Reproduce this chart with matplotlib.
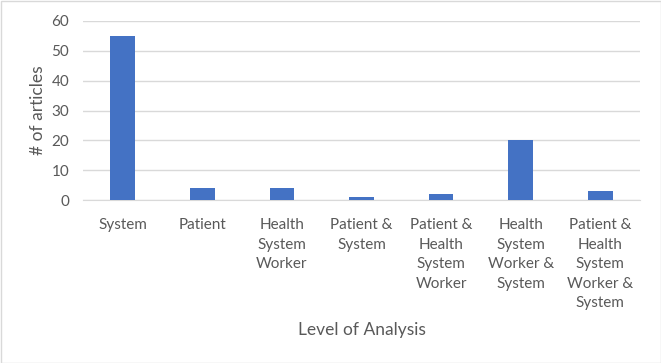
import matplotlib
matplotlib.use("Agg")
import matplotlib.pyplot as plt
from matplotlib.patches import Rectangle

categories = ["System", "Patient", "Health\nSystem\nWorker", "Patient &\nSystem",
              "Patient &\nHealth\nSystem\nWorker", "Health\nSystem\nWorker &\nSystem",
              "Patient &\nHealth\nSystem\nWorker &\nSystem"]
values = [55, 4, 4, 1, 2, 20, 3]
yticks = [0, 10, 20, 30, 40, 50, 60]

plt.rcParams['font.family'] = ['Lato', 'DejaVu Sans']
txt = '#595959'

fig = plt.figure(figsize=(6.61, 3.63), dpi=100)
W, H = 661, 363
ax = fig.add_axes([83/W, 1-200/H, (640-83)/W, (200-21)/H])
x = list(range(len(categories)))
ax.bar(x, values, width=0.31, color='#4472C4', zorder=3)
ax.set_xlim(-0.5, len(categories)-0.5)
ax.set_ylim(0, 60)
ax.set_yticks(yticks)
ax.set_xticks(x)
ax.set_xticklabels(categories, linespacing=1.5)
ax.tick_params(axis='both', length=0, colors=txt, labelsize=11)
ax.tick_params(axis='x', pad=13)
ax.tick_params(axis='y', pad=10)
ax.grid(axis='y', color='#d9d9d9', linewidth=1, zorder=0)
for s in ['top', 'right', 'left']:
    ax.spines[s].set_visible(False)
ax.spines['bottom'].set_color('#d9d9d9')
ax.set_ylabel('# of articles', color=txt, fontsize=12.5, labelpad=4)
fig.text((83+640)/2/W, 1-330/H, 'Level of Analysis', color=txt, fontsize=12.5,
         ha='center', va='center')
fig.patches.append(Rectangle((0.5/W, 0.5/H), 1-1/W, 1-1/H, transform=fig.transFigure,
                             fill=False, edgecolor='#d9d9d9', linewidth=1))
fig.savefig('out.png', dpi=100)
